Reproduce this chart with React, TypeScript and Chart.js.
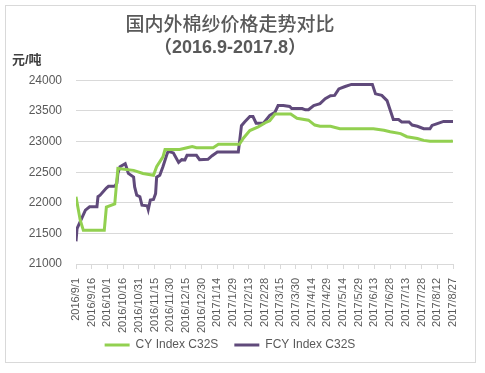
import React, { useEffect, useRef } from 'react';
import { Chart, registerables } from 'chart.js';

Chart.register(...registerables);

const titleText = '国内外棉纱价格走势对比';
const subtitleText = '（2016.9-2017.8）';
const unitText = '元/吨';

const dateLabels = [
  '2016/9/1', '2016/9/16', '2016/10/1', '2016/10/16', '2016/10/31', '2016/11/15',
  '2016/11/30', '2016/12/15', '2016/12/30', '2017/1/14', '2017/1/29', '2017/2/13',
  '2017/2/28', '2017/3/15', '2017/3/30', '2017/4/14', '2017/4/29', '2017/5/14',
  '2017/5/29', '2017/6/13', '2017/6/28', '2017/7/13', '2017/7/28', '2017/8/12', '2017/8/27',
];
const labelStepDays = 15;

const yTicks = [21000, 21500, 22000, 22500, 23000, 23500, 24000];

// Days since 2016/9/1 and prices (元/吨)
const cyDays = [0, 4, 7, 27, 29, 37, 40, 55, 64, 74, 77, 83, 85, 99, 106, 111, 115, 131, 136, 156,
  160, 166, 174, 182, 185, 190, 205, 211, 222, 228, 233, 243, 252, 284, 294, 300, 310, 316, 326, 332, 338, 359, 360];
const cyValues = [22100, 21720, 21550, 21550, 21930, 21980, 22560, 22530, 22480, 22450, 22590, 22750, 22870, 22870, 22900, 22920, 22900, 22900, 22955, 22955,
  23060, 23180, 23240, 23320, 23340, 23450, 23450, 23380, 23350, 23270, 23250, 23250, 23210, 23210, 23185, 23160, 23130, 23080, 23050, 23020, 23005, 23005, 23020];

const fcyDays = [0, 1, 9, 13, 20, 21, 23, 29, 31, 37, 39, 40, 42, 47, 48, 50, 55, 56, 58, 61, 63, 68, 69, 71, 74, 76, 77, 80, 83, 87, 88, 93, 98, 101, 104, 106, 115, 118, 126, 130, 135, 155,
  158, 161, 166, 169, 172, 179, 185, 190, 193, 198, 204, 206, 216, 219, 222, 227, 233, 238, 243, 247, 251, 257, 263, 283, 286, 292, 297, 303, 308, 311, 318, 321, 326, 332, 338, 340, 345, 351, 360];
const fcyValues = [21370, 21580, 21880, 21935, 21935, 22100, 22125, 22240, 22270, 22270, 22320, 22480, 22590, 22640, 22590, 22480, 22420, 22260, 22125, 22100, 21960, 21950, 21890, 22045, 22055, 22150, 22420, 22450, 22590, 22800, 22840, 22815, 22660, 22705, 22700, 22775, 22775, 22705, 22710, 22770, 22830, 22830,
  23260, 23320, 23410, 23410, 23300, 23300, 23430, 23480, 23590, 23590, 23575, 23540, 23540, 23520, 23520, 23590, 23620, 23700, 23750, 23755, 23860, 23900, 23935, 23935, 23780, 23755, 23670, 23360, 23360, 23320, 23320, 23270, 23250, 23210, 23210, 23265, 23295, 23330, 23330];

const seriesNames = ['CY Index C32S', 'FCY Index C32S'];
const seriesColors = ['#92D050', '#604A7B'];

const FONT = "'Liberation Sans', Arial, 'Noto Sans CJK SC', sans-serif";
const TEXT = '#595959';
const GRID = '#d9d9d9';

const unitLabelPlugin = {
  id: 'unitLabel',
  afterDraw(chart: any) {
    const ctx = chart.ctx;
    ctx.save();
    ctx.font = `bold 13px ${FONT}`;
    ctx.fillStyle = '#404040';
    ctx.textAlign = 'left';
    ctx.textBaseline = 'middle';
    ctx.fillText(unitText, 12, 60);
    ctx.restore();
  },
};

export default function App() {
  const ref = useRef<HTMLCanvasElement | null>(null);

  useEffect(() => {
    if (!ref.current) return;
    const chart = new Chart(ref.current, {
      type: 'line',
      data: {
        datasets: [
          {
            label: seriesNames[0],
            data: cyDays.map((d, i) => ({ x: d, y: cyValues[i] })),
            borderColor: seriesColors[0],
            backgroundColor: seriesColors[0],
            borderWidth: 3,
            pointRadius: 0,
            pointStyle: 'line',
            tension: 0,
          },
          {
            label: seriesNames[1],
            data: fcyDays.map((d, i) => ({ x: d, y: fcyValues[i] })),
            borderColor: seriesColors[1],
            backgroundColor: seriesColors[1],
            borderWidth: 3,
            pointRadius: 0,
            pointStyle: 'line',
            tension: 0,
          },
        ],
      },
      options: {
        responsive: false,
        animation: false,
        layout: { padding: { left: 7, right: 32, top: 10, bottom: 12 } },
        plugins: {
          title: {
            display: true,
            text: titleText,
            color: TEXT,
            font: { family: FONT, size: 19, weight: 500, lineHeight: 1.2 },
            padding: { top: 4, bottom: 0 },
          },
          subtitle: {
            display: true,
            text: subtitleText,
            color: TEXT,
            font: { family: FONT, size: 18, weight: 'bold', lineHeight: 1.2 },
            padding: { top: 0, bottom: 22 },
          },
          legend: {
            position: 'bottom',
            labels: {
              usePointStyle: true,
              pointStyleWidth: 25,
              color: TEXT,
              font: { family: FONT, size: 12 },
              padding: 16,
            },
          },
          tooltip: { enabled: false },
        },
        scales: {
          x: {
            type: 'linear',
            min: 0,
            max: (dateLabels.length - 1) * labelStepDays,
            afterBuildTicks: (scale: any) => {
              scale.ticks = dateLabels.map((_, i) => ({ value: i * labelStepDays }));
            },
            afterFit: (scale: any) => {
              scale.height = 59;
              scale._computeLabelArea = () => undefined;
            },
            ticks: {
              autoSkip: false,
              minRotation: 90,
              maxRotation: 90,
              padding: 9,
              color: TEXT,
              font: { family: FONT, size: 11 },
              callback: (v: any) => dateLabels[Math.round(Number(v) / labelStepDays)] ?? '',
            },
            grid: { drawOnChartArea: false, drawTicks: true, tickLength: 5, color: GRID },
            border: { display: true, color: GRID },
          },
          y: {
            min: yTicks[0],
            max: yTicks[yTicks.length - 1],
            afterBuildTicks: (scale: any) => {
              scale.ticks = yTicks.map((v) => ({ value: v }));
            },
            afterFit: (scale: any) => {
              scale.width = 69;
            },
            ticks: {
              padding: 14,
              color: TEXT,
              font: { family: FONT, size: 12 },
              callback: (v: any) => String(v),
            },
            grid: { drawTicks: false, color: GRID },
            border: { display: false },
          },
        },
      },
      plugins: [unitLabelPlugin],
    });
    return () => chart.destroy();
  }, []);

  return (
    <div style={{ position: 'absolute', left: 0, top: 0, width: 485, height: 373, background: '#fff' }}>
      <div
        style={{
          position: 'absolute',
          left: 5,
          top: 5,
          width: 471,
          height: 358,
          boxSizing: 'border-box',
          border: `1px solid ${GRID}`,
        }}
      />
      <canvas ref={ref} width={485} height={373} style={{ position: 'absolute', left: 0, top: 0 }} />
    </div>
  );
}
